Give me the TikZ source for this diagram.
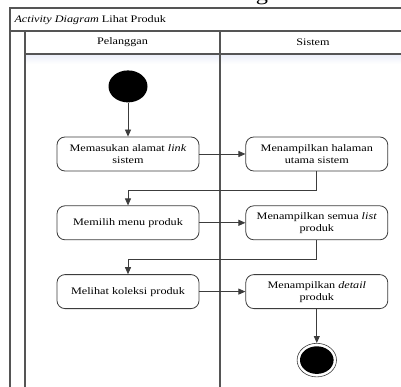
\documentclass[tikz,border=0pt]{standalone}
\usepackage{fontspec}
\setmainfont{Liberation Serif}[FakeStretch=1.22]
\usetikzlibrary{arrows.meta,positioning,shapes.geometric}
\definecolor{ln}{RGB}{60,60,60}
\definecolor{frm}{RGB}{85,85,85}
\definecolor{hd}{RGB}{236,239,250}

\begin{document}
\begin{tikzpicture}[x=1pt,y=-1pt,font=\fontsize{10}{12}\selectfont,node distance=34pt and 46pt,
  act/.style={draw=ln,line width=0.8pt,rounded corners=8pt,minimum width=142pt,minimum height=34pt,align=center,inner sep=2pt},
  startdot/.style={ellipse,fill=black,minimum width=39pt,minimum height=32pt,inner sep=0pt},
  endring/.style={ellipse,draw=ln,line width=0.6pt,minimum width=39.4pt,minimum height=33.6pt,inner sep=0pt},
  flow/.style={draw=ln,line width=0.8pt,-{Triangle[length=7pt,width=6pt]}},
  lane/.style={draw=frm,line width=1.1pt}]
\useasboundingbox (0,0) rectangle (401,387);
\clip (0,0) rectangle (401,387);
\fill[white] (0,0) rectangle (401,387);
% cut-off heading above the frame
\node[anchor=base,font=\fontsize{20}{20}\selectfont] (heading) at (262,0.5) {g};
% swimlane frame
\shade[top color=hd,bottom color=white] (25.5,54.5) rectangle (410,64);
\draw[lane] (10,395) -- (10,8) -- (410,8);
\draw[lane] (10,31) -- (410,31);
\draw[lane] (25,395) -- (25,31);
\draw[lane] (25,54) -- (410,54);
\draw[lane] (220,31) -- (220,395);
\node[anchor=west] (title) at (11,20) {\textit{Activity Diagram} Lihat Produk};
\node (pel) at (122.5,42.5) {Pelanggan};
\node (sis) at (313,42.5) {Sistem};
% activities
\node[act] (masuk) at (128,154) {Memasukan alamat \textit{link}\\sistem};
\node[act,right=of masuk] (halaman) {Menampilkan halaman\\utama sistem};
\node[act,below=of masuk] (menu) {Memilih menu produk};
\node[act,right=of menu] (list) {Menampilkan semua \textit{list}\\produk};
\node[act,below=of menu] (koleksi) {Melihat koleksi produk};
\node[act,right=of koleksi] (detail) {Menampilkan \textit{detail}\\produk};
\node[startdot,above=of masuk] (mulai) {};
\node[endring,below=of detail] (selesai) {};
\node[ellipse,fill=black,minimum width=33.6pt,minimum height=27.6pt,inner sep=0pt] (selesaiisi) at (selesai) {};
% flows
\draw[flow] (mulai) -- (masuk);
\draw[flow] (masuk) -- (halaman);
\draw[flow] (halaman.south) -- ++(0,19) -| (menu.north);
\draw[flow] (menu) -- (list);
\draw[flow] (list.south) -- ++(0,19) -| (koleksi.north);
\draw[flow] (koleksi) -- (detail);
\draw[flow] (detail) -- (selesai);
\end{tikzpicture}
\end{document}
